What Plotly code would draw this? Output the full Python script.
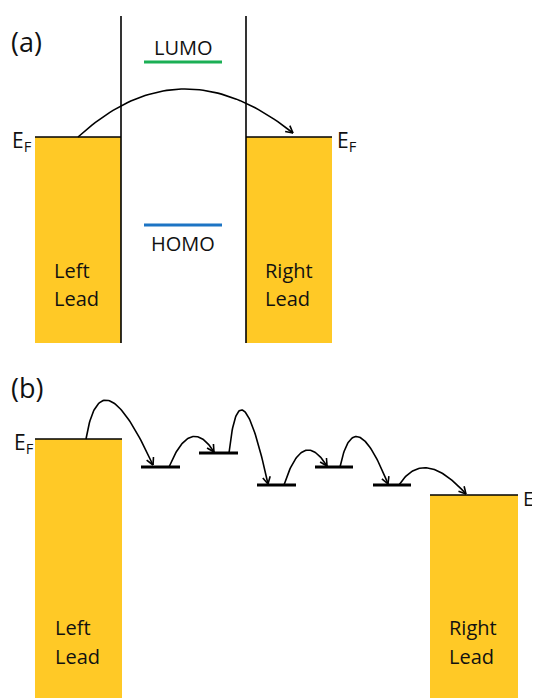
import numpy as np
import plotly.graph_objects as go

# ---------------- data (pixel-like diagram coordinates, y grows downward) -------------
# Panel (a): coherent tunnelling through a molecule
a_leads_x = [[35, 121], [246, 332]]        # left / right lead horizontal extent
a_lead_top = [137, 137]                     # Fermi level of each lead
a_lead_bottom = 343
a_barrier_x = [121, 246]
a_barrier_y = [16, 343]
a_orbital_names = ["LUMO", "HOMO"]
a_orbital_energy = [62, 225]
a_orbital_x = [144, 222]
a_orbital_colors = ["#1BAF55", "#1C74C4"]
a_hop = [(78, 137), (183, 89), (293, 133)]   # start, peak, end

# Panel (b): sequential hopping through localized states
b_leads_x = [[35, 122], [430, 518]]
b_lead_top = [439, 495]
b_lead_bottom = 710
b_site_x = [[141, 180], [199, 238], [257, 296], [315, 353], [373, 411]]
b_site_energy = [467, 453, 485, 467, 485]
b_hops = [
    [(86, 439), (110, 401), (153, 465)],
    [(169, 467), (191, 437), (214, 452)],
    [(229, 453), (244, 411), (268, 484)],
    [(284, 485), (304, 451), (327, 466)],
    [(340, 467), (359, 437), (388, 484)],
    [(399, 485), (428, 468), (466, 494)],
]

LEAD_FILL = "#FFC926"
FONT = "Open Sans"
PAGE_OFFSET = 8  # default body margin of the html page

fig = go.Figure()


def add_line(xs, ys, color="black", width=1.5):
    fig.add_trace(go.Scatter(x=xs, y=ys, mode="lines",
                             line=dict(color=color, width=width),
                             hoverinfo="skip", showlegend=False))


def add_lead(x0, x1, top, bottom):
    fig.add_trace(go.Scatter(x=[x0, x1, x1, x0, x0], y=[bottom, bottom, top, top, bottom],
                             mode="lines", fill="toself", fillcolor=LEAD_FILL,
                             line=dict(color=LEAD_FILL, width=0),
                             hoverinfo="skip", showlegend=False))
    add_line([x0, x1], [top, top], "black", 1.6)


def add_hop(p0, pm, p2, width=1.6):
    p0 = np.array(p0, float); pm = np.array(pm, float); p2 = np.array(p2, float)
    p1 = 2 * pm - (p0 + p2) / 2
    t = np.linspace(0, 1, 60)[:, None]
    pts = (1 - t) ** 2 * p0 + 2 * (1 - t) * t * p1 + t ** 2 * p2
    add_line(pts[:, 0], pts[:, 1], "black", width)
    d = p2 - p1
    d = d / np.linalg.norm(d)
    L = 8
    for ang in (np.deg2rad(28), -np.deg2rad(28)):
        c, s = np.cos(ang), np.sin(ang)
        r = np.array([c * d[0] - s * d[1], s * d[0] + c * d[1]])
        q = p2 - L * r
        add_line([q[0], p2[0]], [q[1], p2[1]], "black", width)


def text(x, y, s, size=20, xanchor="center"):
    fig.add_annotation(x=x, y=y, text=s, showarrow=False, xanchor=xanchor, yanchor="middle",
                       font=dict(family=FONT, size=size, color="#111111"))


# ---------- panel (a) ----------
for (x0, x1), top in zip(a_leads_x, a_lead_top):
    add_lead(x0, x1, top, a_lead_bottom)
for bx in a_barrier_x:
    add_line([bx, bx], a_barrier_y, "black", 1.6)
for name, e, col in zip(a_orbital_names, a_orbital_energy, a_orbital_colors):
    add_line(a_orbital_x, [e, e], col, 3)
    ty = e - 15 if name == "LUMO" else e + 18
    text(sum(a_orbital_x) / 2, ty, name, 20)
add_hop(*a_hop)
text(9, 41, "(a)", 27, "left")
text(10, 141, "E<sub>F</sub>", 21, "left")
text(335, 141, "E<sub>F</sub>", 21, "left")
text(52, 270, "Left", 20, "left")
text(52, 298, "Lead", 20, "left")
text(263, 270, "Right", 20, "left")
text(263, 298, "Lead", 20, "left")

# ---------- panel (b) ----------
for (x0, x1), top in zip(b_leads_x, b_lead_top):
    add_lead(x0, x1, top, b_lead_bottom)
for (x0, x1), e in zip(b_site_x, b_site_energy):
    add_line([x0, x1], [e, e], "black", 3)
for h in b_hops:
    add_hop(*h)
text(9, 387, "(b)", 27, "left")
text(12, 443, "E<sub>F</sub>", 21, "left")
text(521, 499, "E<sub>F</sub>", 20, "left")
text(53, 627, "Left", 20, "left")
text(53, 656, "Lead", 20, "left")
text(447, 627, "Right", 20, "left")
text(447, 656, "Lead", 20, "left")

fig.update_layout(
    width=540, height=698,
    margin=dict(l=0, r=0, t=0, b=0),
    plot_bgcolor="white", paper_bgcolor="white",
    xaxis=dict(range=[PAGE_OFFSET, 540 + PAGE_OFFSET], visible=False, fixedrange=True),
    yaxis=dict(range=[698 + PAGE_OFFSET, PAGE_OFFSET], visible=False, fixedrange=True),
    showlegend=False,
)
fig.write_html("out.html")
